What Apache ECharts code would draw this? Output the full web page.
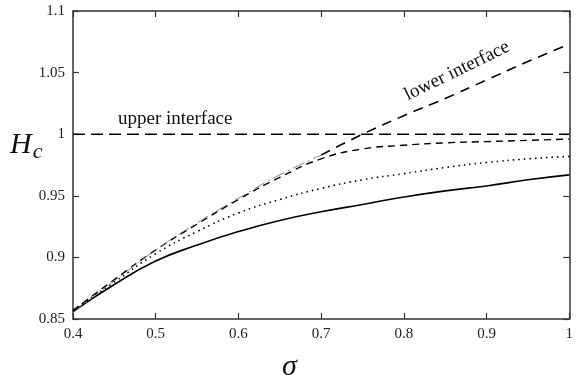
<!DOCTYPE html>
<html>
<head>
<meta charset="utf-8">
<script src="https://cdn.jsdelivr.net/npm/echarts@6/dist/echarts.min.js"></script>
<style>
  html, body { margin: 0; padding: 0; background: #fff; }
  #chart { width: 576px; height: 375px; }
</style>
</head>
<body>
<div id="chart"></div>
<script>
// sigma sample points shared by all curves
const sigma = [0.4, 0.45, 0.5, 0.55, 0.6, 0.65, 0.7, 0.75, 0.8, 0.85, 0.9, 0.95, 1.0];

const solidCurve  = [0.856, 0.878, 0.897, 0.910, 0.921, 0.930, 0.937, 0.943, 0.949, 0.954, 0.958, 0.963, 0.967];
const dottedCurve = [0.857, 0.880, 0.903, 0.921, 0.936, 0.947, 0.956, 0.963, 0.968, 0.973, 0.977, 0.980, 0.982];
const dashedCurve = [0.857, 0.882, 0.906, 0.927, 0.947, 0.965, 0.980, 0.988, 0.991, 0.993, 0.994, 0.995, 0.996];
const lowerInterface = [0.855, 0.881, 0.906, 0.928, 0.948, 0.967, 0.983, 1.000, 1.015, 1.029, 1.044, 1.059, 1.073];
const upperSigma = [0.4, 1.0];
const upperInterface = [1.0, 1.0];

const pairs = (xs, ys) => xs.map((x, i) => [x, ys[i]]);
const lowerPts = pairs(sigma, lowerInterface);

const FONT = 'Liberation Serif';
const AXIS_COLOR = '#333';

const fmt = v => (Math.abs(v - 1) < 1e-9 ? '1' : String(+v.toFixed(2)));

const baseAxis = {
  type: 'value',
  axisLine: { show: true, onZero: false, lineStyle: { color: AXIS_COLOR, width: 1.5 } },
  axisTick: { show: true, inside: true, length: 6, lineStyle: { color: AXIS_COLOR, width: 1.2 } },
  splitLine: { show: false },
  axisLabel: { show: false }
};

const chart = echarts.init(document.getElementById('chart'));

chart.setOption({
  animation: false,
  backgroundColor: '#fff',
  grid: { left: 73, right: 3, top: 11, bottom: 56 },
  xAxis: [
    Object.assign({}, baseAxis, {
      position: 'bottom', min: 0.4, max: 1.0, interval: 0.1,
      axisLabel: { show: true, color: '#222', fontFamily: FONT, fontSize: 15, margin: 8, formatter: fmt }
    }),
    Object.assign({}, baseAxis, { position: 'top', min: 0.4, max: 1.0, interval: 0.1 })
  ],
  yAxis: [
    Object.assign({}, baseAxis, {
      position: 'left', min: 0.85, max: 1.1, interval: 0.05,
      axisLabel: { show: true, color: '#222', fontFamily: FONT, fontSize: 15, margin: 8, formatter: fmt }
    }),
    Object.assign({}, baseAxis, { position: 'right', min: 0.85, max: 1.1, interval: 0.05 })
  ],
  series: [
    {
      name: 'solid', type: 'line', smooth: true, symbol: 'none',
      data: pairs(sigma, solidCurve),
      lineStyle: { color: '#000', width: 1.6 }
    },
    {
      name: 'dotted', type: 'line', smooth: true, symbol: 'none',
      data: pairs(sigma, dottedCurve),
      lineStyle: { color: '#000', width: 1.6, type: [1.5, 4] }
    },
    {
      name: 'dashed', type: 'line', smooth: true, symbol: 'none',
      data: pairs(sigma, dashedCurve),
      lineStyle: { color: '#000', width: 1.4, type: [7, 5] }
    },
    {
      name: 'lower interface (thin)', type: 'line', smooth: true, symbol: 'none',
      data: lowerPts.filter(p => p[0] <= 0.7),
      lineStyle: { color: '#777', width: 0.9, type: [12, 4, 2, 4] }
    },
    {
      name: 'lower interface', type: 'line', smooth: true, symbol: 'none',
      data: lowerPts.filter(p => p[0] >= 0.7),
      lineStyle: { color: '#000', width: 1.6, type: [10, 7] }
    },
    {
      name: 'upper interface', type: 'line', symbol: 'none',
      data: pairs(upperSigma, upperInterface),
      lineStyle: { color: '#000', width: 1.4, type: [12, 6] }
    }
  ],
  graphic: [
    {
      type: 'text', left: 118, top: 110,
      style: { text: 'upper interface', font: '19px "Liberation Serif"', fill: '#111' }
    },
    {
      type: 'text', x: 457, y: 71, rotation: 26 * Math.PI / 180,
      style: { text: 'lower interface', font: '19px "Liberation Serif"', fill: '#111', align: 'center', verticalAlign: 'middle' }
    },
    {
      type: 'text', left: 10, top: 130,
      style: {
        text: '{h|H}{c|c}',
        rich: {
          h: { fontFamily: FONT, fontStyle: 'italic', fontSize: 30, fill: '#111' },
          c: { fontFamily: FONT, fontStyle: 'italic', fontSize: 22, fill: '#111', padding: [14, 0, 0, 1] }
        }
      }
    },
    {
      type: 'text', left: 282, top: 352,
      style: { text: 'σ', font: 'italic 30px "Liberation Serif"', fill: '#111' }
    }
  ]
});
</script>
</body>
</html>
